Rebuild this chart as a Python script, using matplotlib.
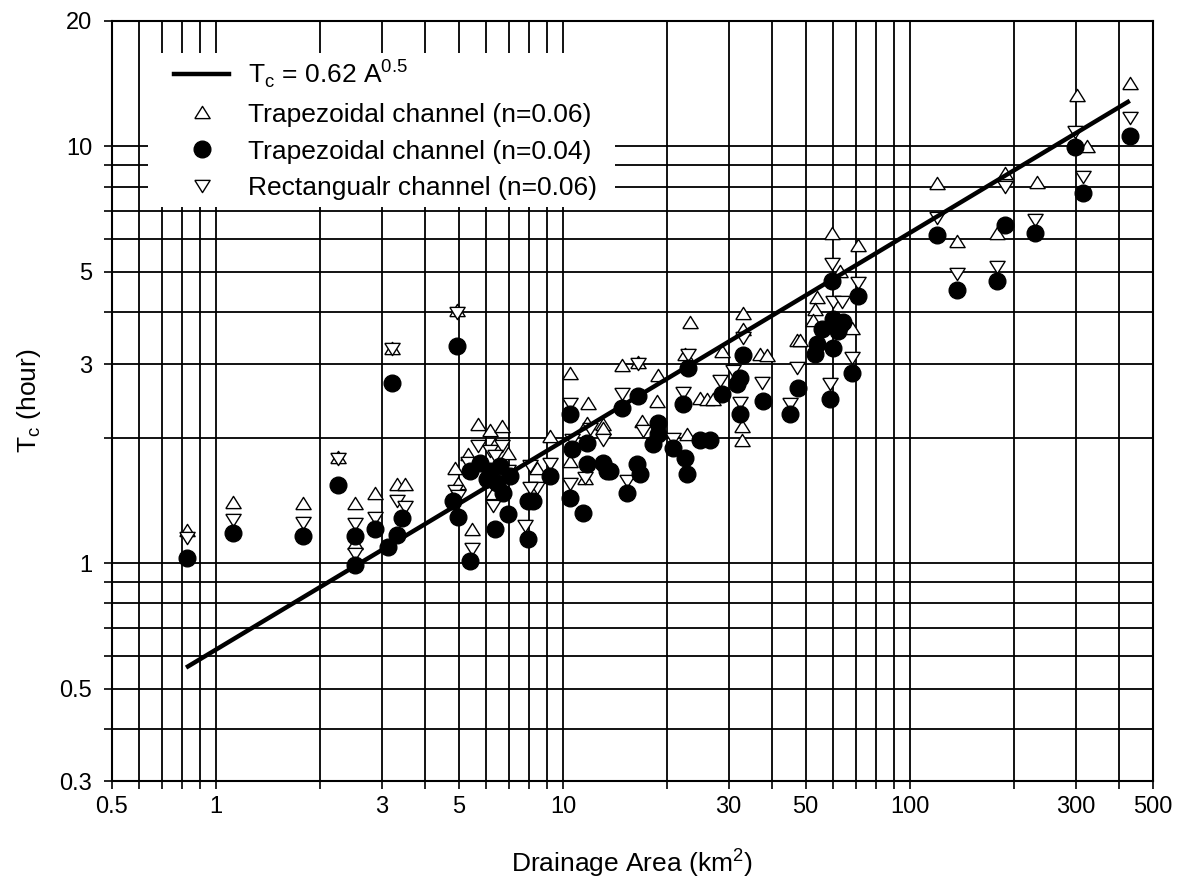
import numpy as np
import matplotlib
matplotlib.use('Agg')
from matplotlib import pyplot as plt
from matplotlib.ticker import FixedLocator, FixedFormatter, NullFormatter
from matplotlib.lines import Line2D
from matplotlib.patches import Rectangle

plt.rcParams['font.family'] = ['Liberation Sans', 'DejaVu Sans']
plt.rcParams['mathtext.fontset'] = 'custom'
plt.rcParams['mathtext.rm'] = 'Liberation Sans'

# Trapezoidal channel (n=0.06) - up triangles
trap06_area = [0.825, 1.12, 1.78, 2.25, 2.52, 2.52, 2.87, 3.22, 3.32, 3.50,
               4.95, 4.88, 4.98, 5.32, 5.47, 5.69, 6.16, 6.67, 6.37, 6.28,
               6.94, 8.41, 9.17, 10.5, 10.5, 11.7, 11.8, 13.0, 13.0, 11.6,
               14.8, 16.5, 18.8, 18.7, 16.9, 22.5, 23.2, 24.8, 26.0, 27.1,
               22.8, 28.7, 33.0, 33.0, 37.0, 38.7, 32.8, 32.8, 47.2, 48.2,
               54.0, 53.2, 52.5, 59.6, 70.8, 62.9, 68.1, 120, 137, 178,
               188, 232, 303, 324, 431]
trap06_tc = [1.20, 1.40, 1.39, 1.80, 1.39, 1.12, 1.47, 3.29, 1.55, 1.55,
             4.04, 1.69, 1.56, 1.83, 1.21, 2.16, 2.09, 2.13, 1.93, 1.47,
             1.84, 1.69, 2.02, 2.86, 1.76, 2.17, 2.42, 2.16, 2.11, 1.60,
             2.98, 3.03, 2.82, 2.45, 2.19, 3.18, 3.78, 2.49, 2.48, 2.48,
             2.04, 3.23, 3.99, 3.65, 3.18, 3.15, 2.13, 1.97, 3.42, 3.42,
             4.34, 4.08, 3.82, 6.21, 5.78, 5.03, 3.67, 8.15, 5.94, 6.21,
             8.61, 8.19, 13.3, 10.0, 14.2]

# Trapezoidal channel (n=0.04) - filled circles
trap04_area = [0.825, 1.12, 1.78, 2.25, 2.52, 2.52, 2.87, 3.22, 3.44, 3.32,
               3.13, 4.95, 4.82, 4.98, 5.40, 6.37, 6.72, 6.94, 5.76, 6.16,
               6.60, 6.05, 5.40, 7.04, 6.45, 8.20, 7.93, 7.93, 9.17, 10.6,
               11.7, 11.7, 13.0, 13.4, 10.5, 11.4, 10.5, 14.8, 16.5, 13.7,
               16.3, 16.7, 15.3, 18.2, 18.8, 20.7, 22.5, 22.8, 24.8, 26.5,
               22.9, 18.8, 22.2, 28.7, 33.0, 32.4, 31.7, 37.7, 32.4, 45.1,
               47.5, 58.8, 68.1, 55.8, 54.0, 53.2, 60.0, 60.0, 64.1, 62.0,
               59.6, 70.8, 120, 137, 178, 188, 229, 299, 315, 431]
trap04_tc = [1.03, 1.18, 1.16, 1.54, 1.16, 0.99, 1.21, 2.71, 1.28, 1.17,
             1.09, 3.32, 1.41, 1.29, 1.01, 1.21, 1.47, 1.31, 1.74, 1.66,
             1.71, 1.59, 1.66, 1.62, 1.56, 1.41, 1.41, 1.14, 1.62, 1.88,
             1.94, 1.73, 1.74, 1.66, 1.43, 1.32, 2.28, 2.36, 2.52, 1.66,
             1.73, 1.64, 1.47, 1.93, 2.04, 1.89, 1.79, 1.64, 1.97, 1.97,
             2.94, 2.17, 2.41, 2.55, 3.15, 2.78, 2.69, 2.45, 2.28, 2.28,
             2.63, 2.48, 2.86, 3.65, 3.36, 3.18, 3.29, 3.86, 3.78, 3.61,
             4.76, 4.38, 6.11, 4.51, 4.76, 6.46, 6.21, 9.94, 7.71, 10.6]

# Rectangular channel (n=0.06) - down triangles
rect06_area = [0.825, 1.12, 1.78, 2.25, 2.52, 2.52, 2.87, 3.22, 3.32, 3.50,
               4.95, 4.88, 4.98, 5.32, 5.47, 5.69, 6.16, 6.67, 6.37, 6.28,
               6.94, 8.03, 8.41, 8.03, 7.77, 9.17, 10.6, 10.5, 10.5, 11.6,
               13.0, 12.0, 14.8, 16.5, 15.3, 17.0, 20.7, 22.2, 22.9, 28.3,
               30.9, 33.0, 32.4, 37.5, 45.1, 47.2, 58.8, 60.0, 63.7, 68.1,
               59.6, 70.8, 120, 137, 178, 188, 229, 299, 315, 431]
rect06_tc = [1.15, 1.27, 1.25, 1.78, 1.24, 1.05, 1.28, 3.26, 1.41, 1.36,
             3.99, 1.49, 1.45, 1.74, 1.08, 1.91, 1.86, 1.91, 1.81, 1.37,
             1.66, 1.71, 1.51, 1.51, 1.23, 1.73, 1.97, 2.41, 1.55, 1.60,
             1.97, 2.10, 2.55, 3.00, 1.57, 2.08, 1.99, 2.56, 3.15, 2.74,
             2.89, 3.47, 2.42, 2.71, 2.41, 2.94, 2.69, 4.22, 4.22, 3.11,
             5.23, 4.71, 6.71, 4.95, 5.12, 7.97, 6.64, 10.8, 8.42, 11.7]

# fitted relation Tc = 0.62 A^0.5
fit_coef = 0.62
fit_exp = 0.5
fit_area = np.array([0.82, 430])

x_ticks = [0.5, 1, 3, 5, 10, 30, 50, 100, 300, 500]
x_tick_labels = ['0.5', '1', '3', '5', '10', '30', '50', '100', '300', '500']
y_ticks = [0.3, 0.5, 1, 3, 5, 10, 20]
y_tick_labels = ['0.3', '0.5', '1', '3', '5', '10', '20']

# marker shapes a bit flatter than default triangles
tri_up = [(-1, -0.8), (1, -0.8), (0, 0.8), (-1, -0.8)]
tri_dn = [(-1, 0.8), (1, 0.8), (0, -0.8), (-1, 0.8)]

fig = plt.figure(figsize=(11.8, 8.92), dpi=100)
ax = fig.add_axes([0.0945, 0.1244, 0.8822, 0.8523])
ax.set_xscale('log')
ax.set_yscale('log')
ax.set_xlim(0.5, 500)
ax.set_ylim(0.3, 20)

# minor grid positions: every 1..9 multiple not already labelled
def minor_positions(lo, hi, majors):
    out = []
    for d in range(-2, 4):
        for m in range(1, 10):
            v = round(m * 10.0 ** d, 6)
            if lo <= v <= hi and not any(abs(v - t) < 1e-9 for t in majors):
                out.append(v)
    return out

ax.xaxis.set_major_locator(FixedLocator(x_ticks))
ax.xaxis.set_major_formatter(FixedFormatter(x_tick_labels))
ax.xaxis.set_minor_locator(FixedLocator(minor_positions(0.5, 500, x_ticks)))
ax.xaxis.set_minor_formatter(NullFormatter())
ax.yaxis.set_major_locator(FixedLocator(y_ticks))
ax.yaxis.set_major_formatter(FixedFormatter(y_tick_labels))
ax.yaxis.set_minor_locator(FixedLocator(minor_positions(0.3, 20, y_ticks)))
ax.yaxis.set_minor_formatter(NullFormatter())

ax.set_axisbelow(True)
ax.grid(True, which='both', color='black', linewidth=1.3)
for s in ax.spines.values():
    s.set_linewidth(1.5)
ax.tick_params(which='both', direction='out', length=6, width=1.2,
               labelsize=17, color='black')
ax.tick_params(axis='x', which='both', pad=5)
ax.tick_params(axis='y', which='both', pad=8)

# white block behind the legend hides the grid there
ax.add_patch(Rectangle((0.035, 0.755), 0.449, 0.203, transform=ax.transAxes,
                       facecolor='white', edgecolor='none', zorder=1.5))

ax.plot(trap06_area, trap06_tc, linestyle='none', marker=tri_up, ms=11,
        mfc='white', mec='black', mew=1.0, zorder=3)
ax.plot(rect06_area, rect06_tc, linestyle='none', marker=tri_dn, ms=11,
        mfc='white', mec='black', mew=1.0, zorder=3)
ax.plot(trap04_area, trap04_tc, linestyle='none', marker='o', ms=12,
        mfc='black', mec='black', zorder=3)
ax.plot(fit_area, fit_coef * fit_area ** fit_exp, color='black', lw=3.2,
        solid_capstyle='butt', zorder=4)

handles = [
    Line2D([], [], color='black', lw=3.2),
    Line2D([], [], linestyle='none', marker=tri_up, ms=11, mfc='white', mec='black', mew=1.0),
    Line2D([], [], linestyle='none', marker='o', ms=12, mfc='black', mec='black'),
    Line2D([], [], linestyle='none', marker=tri_dn, ms=11, mfc='white', mec='black', mew=1.0),
]
labels = [r'T$_\mathregular{c}$ = 0.62 A$^\mathregular{0.5}$',
          'Trapezoidal channel (n=0.06)',
          'Trapezoidal channel (n=0.04)',
          'Rectangualr channel (n=0.06)']
leg = ax.legend(handles, labels, loc='upper left', bbox_to_anchor=(0.060, 0.952),
                frameon=False, fontsize=19, handlelength=2.1, handletextpad=0.72,
                labelspacing=0.49, borderpad=0, borderaxespad=0)
leg.set_zorder(5)

ax.set_xlabel(r'Drainage Area (km$^\mathregular{2}$)', fontsize=19, labelpad=20)
ax.set_ylabel(r'T$_\mathregular{c}$ (hour)', fontsize=19, labelpad=12)

fig.savefig('out.png', dpi=100)
